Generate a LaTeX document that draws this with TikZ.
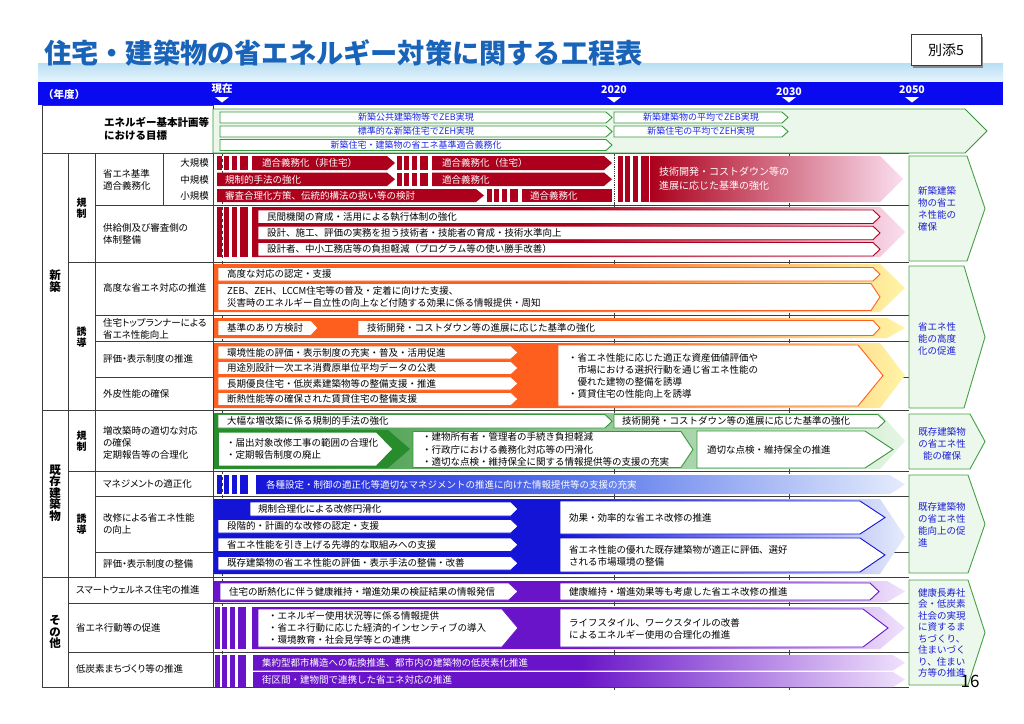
\documentclass[tikz,border=0pt]{standalone}
\usepackage{fontspec}
\setmainfont{Noto Sans CJK JP}
\newfontfamily\plbl[RawFeature=+palt]{Noto Sans CJK JP}
\definecolor{hdrblue}{RGB}{10,10,240}
\definecolor{titleblue}{RGB}{25,100,185}
\definecolor{tbandA}{RGB}{185,222,244}
\definecolor{tbandB}{RGB}{232,245,252}
\definecolor{goalblue}{RGB}{30,40,230}
\definecolor{resblue}{RGB}{30,30,215}
\definecolor{redD}{RGB}{172,0,28}
\definecolor{pinkL}{RGB}{250,222,238}
\definecolor{orgD}{RGB}{255,95,30}
\definecolor{orgL}{RGB}{255,245,165}
\definecolor{grnD}{RGB}{40,140,45}
\definecolor{grnB}{RGB}{55,150,60}
\definecolor{grnL}{RGB}{228,246,228}
\definecolor{bluD}{RGB}{20,20,215}
\definecolor{bluM}{RGB}{90,120,235}
\definecolor{bluL}{RGB}{228,236,252}
\definecolor{purD}{RGB}{105,20,200}
\definecolor{purL}{RGB}{240,225,252}
\definecolor{resfill}{RGB}{236,248,236}
\definecolor{resline}{RGB}{70,160,70}
\definecolor{goalfill}{RGB}{236,247,236}
\definecolor{gridc}{RGB}{60,60,60}

\newcommand{\pent}[6]{\path[#1] (#2,#3) -- ({#4-#6},#3) -- (#4,{(#3+#5)/2}) -- ({#4-#6},#5) -- (#2,#5) -- cycle;}
\newcommand{\stripes}[4]{\foreach \so/\sw in {0/5,7/5,15/5,23/8}{\fill[#1] ({#2+\so},#3) rectangle ({#2+\so+\sw},#4);}}

\begin{document}
\begin{tikzpicture}[x=1pt,y=-1pt,
  every node/.style={inner sep=0pt},
  tx/.style={font=\fontsize{9.5}{12.2}\selectfont, anchor=west, align=left, text=black},
  wt/.style={tx, text=white},
  gt/.style={font=\fontsize{9}{11}\selectfont, text=goalblue},
  lbl/.style={font=\plbl\fontsize{9.5}{12}\selectfont, anchor=west, align=left},
  cat/.style={font=\bfseries\fontsize{11.5}{11.5}\selectfont, align=center},
  subc/.style={font=\bfseries\fontsize{10}{10.5}\selectfont, align=center},
  res/.style={font=\fontsize{9.5}{12}\selectfont, text=resblue, align=left, anchor=west},
  whitearr/.style={fill=white, draw=#1, line width=0.9pt},
  gridln/.style={draw=gridc, line width=0.7pt},
  yr/.style={font=\bfseries\fontsize{10.5}{11}\selectfont, text=white}]

\useasboundingbox[fill=white] (0,0) rectangle (1024,723);

% title
\shade[top color=tbandA, bottom color=tbandB] (38,63) rectangle (1003,82);
\node[font=\bfseries\fontsize{27.2}{27.2}\selectfont, text=titleblue, anchor=west] (title) at (44,53) {住宅・建築物の省エネルギー対策に関する工程表};
\fill[gridc!60] (913,37) rectangle (983,68);
\node[draw=gridc, line width=0.8pt, fill=white, minimum width=70, minimum height=31, font=\fontsize{14}{14}\selectfont] (annex) at (946,50) {別添5};

% header
\fill[hdrblue] (38,82) rectangle (1003,105);
\node[yr] (nendo) at (64,95) {（年度）};
\node[yr] (ynow) at (222,89) {現在};
\node[yr] (y2020) at (614,90) {2020};
\node[yr] (y2030) at (789,92) {2030};
\node[yr] (y2050) at (912,90) {2050};
\foreach \xx in {222,614,789,912} {\fill[white] (\xx-7,97) -- (\xx+7,97) -- (\xx,102.5) -- cycle;}

% grid
\draw[gridln] (42,105) -- (42,687);
\draw[gridln] (68,153) -- (68,687);
\draw[gridln] (95,153) -- (95,577);
\draw[gridln] (163,153) -- (163,205);
\draw[gridln] (213,105) -- (213,687);
\draw[gridln] (42,105) -- (213,105);
\draw[gridln] (42,153) -- (909,153);
\draw[gridln] (95,205) -- (909,205);
\draw[gridln] (68,262) -- (909,262);
\draw[gridln] (95,315) -- (909,315);
\draw[gridln] (95,341) -- (909,341);
\draw[gridln] (95,377) -- (909,377);
\draw[gridln] (42,410) -- (909,410);
\draw[gridln] (68,471) -- (909,471);
\draw[gridln] (95,496) -- (909,496);
\draw[gridln] (95,552) -- (909,552);
\draw[gridln] (42,577) -- (909,577);
\draw[gridln] (68,603) -- (909,603);
\draw[gridln] (68,652) -- (909,652);
\draw[gridln] (42,687) -- (909,687);
\foreach \yy in {153,205,262,315,341,410,471,496,577,603,652,687} {
  \draw[gridln, line width=1pt] (614,\yy-2.5) -- (614,\yy+2.5);
  \draw[gridln, line width=1pt] (789,\yy-2.5) -- (789,\yy+2.5);}
\draw[gridc, dashed, line width=0.8pt] (222.5,153) -- (222.5,687);
\draw[gridc, densely dotted, line width=0.8pt] (614,153) -- (614,205);

% goals
\pent{fill=goalfill, draw=grnB, line width=0.8pt}{213}{109}{987}{153}{22}
\pent{whitearr=grnB}{220}{112}{612}{123}{6}
\pent{whitearr=grnB}{220}{126}{612}{137}{6}
\pent{whitearr=grnB}{220}{139.5}{612}{150.5}{6}
\pent{whitearr=grnB}{614}{112}{788}{123}{6}
\pent{whitearr=grnB}{614}{126}{788}{137}{6}
\node[gt] (g1) at (416,117.5) {新築公共建築物等でZEB実現};
\node[gt] (g2) at (416,131.5) {標準的な新築住宅でZEH実現};
\node[gt] (g3) at (416,145) {新築住宅・建築物の省エネ基準適合義務化};
\node[gt] (g4) at (701,117.5) {新築建築物の平均でZEB実現};
\node[gt] (g5) at (701,131.5) {新築住宅の平均でZEH実現};

% A: new, regulation by scale
\stripes{redD}{217}{156}{170}
\pent{fill=redD}{252}{156}{395}{170}{8}
\node[wt] (a1) at (262,163) {適合義務化（非住宅）};
\stripes{redD}{397}{156}{170}
\pent{fill=redD}{432}{156}{612}{170}{8}
\node[wt] (a2) at (442,163) {適合義務化（住宅）};
\pent{fill=redD}{217}{172.5}{395}{186}{8}
\node[wt] (a3) at (225,179.5) {規制的手法の強化};
\stripes{redD}{397}{172.5}{186}
\pent{fill=redD}{432}{172.5}{612}{186}{8}
\node[wt] (a4) at (442,179.5) {適合義務化};
\pent{fill=redD}{217}{189}{484}{202}{8}
\node[wt] (a5) at (225,195.5) {審査合理化方策、伝統的構法の扱い等の検討};
\stripes{redD}{487}{189}{202}
\fill[redD] (522,189) rectangle (612,202);
\node[wt] (a6) at (530,195.5) {適合義務化};
\stripes{redD}{618}{156}{202}
\pent{left color=redD, right color=pinkL}{650}{156}{903}{202}{23}
\node[wt, font=\fontsize{10}{14}\selectfont] (a7) at (659,179) {技術開発・コストダウン等の\\進展に応じた基準の強化};

% B: supply side
\stripes{redD}{217}{207}{257}
\pent{left color=redD, right color=pinkL, middle color=redD}{252}{207}{905}{257}{25}
\pent{whitearr=redD}{258}{210}{880}{223.5}{7}
\node[tx] (b1) at (267,216.75) {民間機関の育成・活用による執行体制の強化};
\pent{whitearr=redD}{258}{226.2}{880}{239.7}{7}
\node[tx] (b2) at (267,233) {設計、施工、評価の実務を担う技術者・技能者の育成・技術水準向上};
\pent{whitearr=redD}{258}{242.5}{880}{256}{7}
\node[tx] (b3) at (267,249.25) {設計者、中小工務店等の負担軽減（プログラム等の使い勝手改善）};

% C: advanced
\pent{left color=orgD, right color=orgL, middle color=orgD}{214}{264}{905}{312}{25}
\pent{whitearr=orgD}{218}{267.5}{880}{281}{7}
\node[tx] (c1) at (227,274.25) {高度な対応の認定・支援};
\pent{whitearr=orgD}{218}{283.5}{880}{310.5}{9}
\node[tx] (c2) at (227,297) {ZEB、ZEH、LCCM住宅等の普及・定着に向けた支援、\\災害時のエネルギー自立性の向上など付随する効果に係る情報提供・周知};

% D: top runner
\pent{left color=orgD, right color=orgL, middle color=orgD}{214}{318}{905}{338}{18}
\pent{whitearr=orgD}{218}{320.5}{318}{335.5}{7}
\node[tx] (d1) at (227,328) {基準のあり方検討};
\stripes{orgD}{325}{318}{338}
\pent{whitearr=orgD}{358}{320.5}{880}{335.5}{7}
\node[tx] (d2) at (367,328) {技術開発・コストダウン等の進展に応じた基準の強化};

% E: evaluation / envelope
\pent{left color=orgD, right color=orgL, middle color=orgD}{214}{343}{905}{408}{25}
\pent{whitearr=orgD}{218}{346}{518}{359}{7}
\node[tx] (e1) at (227,352.5) {環境性能の評価・表示制度の充実・普及・活用促進};
\pent{whitearr=orgD}{218}{361.5}{518}{374.5}{7}
\node[tx] (e2) at (227,368) {用途別設計一次エネ消費原単位平均データの公表};
\pent{whitearr=orgD}{218}{377}{518}{390}{7}
\node[tx] (e3) at (227,383.5) {長期優良住宅・低炭素建築物等の整備支援・推進};
\pent{whitearr=orgD}{218}{392.5}{518}{405.5}{7}
\node[tx] (e4) at (227,399) {断熱性能等の確保された賃貸住宅の整備支援};
\stripes{orgD}{521}{344}{407}
\pent{whitearr=orgD}{558}{345}{883}{406}{25}
\node[tx] (e5) at (568,376) {・省エネ性能に応じた適正な資産価値評価や\\　市場における選択行動を通じ省エネ性能の\\　優れた建物の整備を誘導\\・賃貸住宅の性能向上を誘導};

% F: existing, regulation
\pent{left color=grnD, right color=grnL}{214}{413}{905}{469}{25}
\pent{whitearr=grnB}{218}{414.5}{612}{428}{7}
\node[tx] (f1) at (227,421.25) {大幅な増改築に係る規制的手法の強化};
\pent{whitearr=grnB}{614}{414.5}{885}{428}{7}
\node[tx] (f2) at (622,421.25) {技術開発・コストダウン等の進展に応じた基準の強化};
\pent{fill=grnD}{214}{430}{410}{468}{22}
\pent{fill=white}{219}{432.5}{392}{465.5}{16}
\node[tx] (f3) at (226,449) {・届出対象改修工事の範囲の合理化\\・定期報告制度の廃止};
\pent{whitearr=grnB}{413}{431.5}{693}{467.5}{12}
\node[tx] (f4) at (422,449.5) {・建物所有者・管理者の手続き負担軽減\\・行政庁における義務化対応等の円滑化\\・適切な点検・維持保全に関する情報提供等の支援の充実};
\pent{whitearr=grnB}{697}{431}{893}{468}{28}
\node[tx] (f5) at (707,449.5) {適切な点検・維持保全の推進};

% G: management
\stripes{bluD}{217}{475}{494}
\pent{left color=bluD, right color=bluL, middle color=bluM}{256}{475}{905}{494}{15}
\node[wt] (g6) at (266,484.5) {各種設定・制御の適正化等適切なマネジメントの推進に向けた情報提供等の支援の充実};

% H: renovation
\pent{left color=bluD, right color=bluL, middle color=bluD}{214}{499}{905}{574}{25}
\stripes{bluD}{217}{502}{516}
\pent{whitearr=bluD}{250}{502}{518}{516}{7}
\node[tx] (h1) at (258,509) {規制合理化による改修円滑化};
\pent{whitearr=bluD}{218}{519.5}{518}{533}{7}
\node[tx] (h2) at (227,526.25) {段階的・計画的な改修の認定・支援};
\pent{whitearr=bluD}{218}{538}{518}{551.5}{7}
\node[tx] (h3) at (227,544.75) {省エネ性能を引き上げる先導的な取組みへの支援};
\pent{whitearr=bluD}{218}{556.5}{518}{570}{7}
\node[tx] (h4) at (227,563.25) {既存建築物の省エネ性能の評価・表示手法の整備・改善};
\stripes{bluD}{521}{502}{534}
\stripes{bluD}{521}{538}{571}
\pent{whitearr=bluD}{560}{501}{885}{534}{25}
\node[tx] (h5) at (569,518) {効果・効率的な省エネ改修の推進};
\pent{whitearr=bluD}{560}{538}{885}{572}{25}
\node[tx] (h6) at (569,555.5) {省エネ性能の優れた既存建築物が適正に評価、選好\\される市場環境の整備};

% I: smart wellness
\pent{left color=purD, right color=purL, middle color=purD}{214}{581}{905}{602}{18}
\pent{whitearr=purD}{220}{583}{518}{600}{9}
\node[tx] (i1) at (229,591.5) {住宅の断熱化に伴う健康維持・増進効果の検証結果の情報発信};
\stripes{purD}{521}{581}{602}
\pent{whitearr=purD}{560}{583}{879}{600}{9}
\node[tx] (i2) at (569,591.5) {健康維持・増進効果等も考慮した省エネ改修の推進};

% J: behaviour
\stripes{purD}{215}{607}{649}
\pent{left color=purD, right color=purL, middle color=purD}{252}{607}{905}{649}{25}
\pent{whitearr=purD}{258}{609}{518}{647}{16}
\node[tx] (j1) at (268,628) {・エネルギー使用状況等に係る情報提供\\・省エネ行動に応じた経済的インセンティブの導入\\・環境教育・社会見学等との連携};
\stripes{purD}{521}{607}{649}
\pent{whitearr=purD}{560}{609}{888}{647}{25}
\node[tx] (j2) at (569,628.5) {ライフスタイル、ワークスタイルの改善\\によるエネルギー使用の合理化の推進};

% K: low carbon town
\stripes{purD}{215}{655}{687}
\pent{left color=purD, right color=purL, middle color=purD}{253}{655}{905}{670.5}{12}
\node[wt] (k1) at (262,662.75) {集約型都市構造への転換推進、都市内の建築物の低炭素化推進};
\pent{left color=purD, right color=purL, middle color=purD}{253}{672}{905}{687}{12}
\node[wt] (k2) at (262,679.5) {街区間・建物間で連携した省エネ対応の推進};

% results
\pent{fill=resfill, draw=resline, line width=0.9pt}{909}{156}{985}{261}{18}
\pent{fill=resfill, draw=resline, line width=0.9pt}{909}{266}{985}{408}{21}
\pent{fill=resfill, draw=resline, line width=0.9pt}{909}{414}{985}{469}{15}
\pent{fill=resfill, draw=resline, line width=0.9pt}{909}{475}{985}{573}{17}
\pent{fill=resfill, draw=resline, line width=0.9pt}{909}{580}{985}{685}{17}
\node[res] (r1) at (918,208.5) {新築建築\\物の省エ\\ネ性能の\\確保};
\node[res] (r2) at (918,338.5) {省エネ性\\能の高度\\化の促進};
\node[res, align=center, anchor=center] (r3) at (942,443.5) {既存建築物\\の省エネ性\\能の確保};
\node[res] (r4) at (918,525) {既存建築物\\の省エネ性\\能向上の促\\進};
\node[res, font=\fontsize{9.5}{11.5}\selectfont] (r5) at (918,633) {健康長寿社\\会・低炭素\\社会の実現\\に資するま\\ちづくり、\\住まいづく\\り、住まい\\方等の推進};

% left labels
\node[cat] (cnew) at (55,281) {新\\築};
\node[cat] (cold) at (55,493) {既\\存\\建\\築\\物};
\node[cat] (coth) at (55,632) {そ\\の\\他};
\node[subc] (s1) at (81.5,208) {規\\制};
\node[subc] (s2) at (81.5,337) {誘\\導};
\node[subc] (s3) at (81.5,441) {規\\制};
\node[subc] (s4) at (81.5,524) {誘\\導};

\node[lbl, font=\bfseries\fontsize{10.5}{12.5}\selectfont] (l0) at (104,129) {エネルギー基本計画等\\における目標};
\node[lbl] (l1) at (103,180) {省エネ基準\\適合義務化};
\node[lbl, anchor=east] (l1a) at (209,163) {大規模};
\node[lbl, anchor=east] (l1b) at (209,180) {中規模};
\node[lbl, anchor=east] (l1c) at (209,196) {小規模};
\node[lbl] (l2) at (103,234) {供給側及び審査側の\\体制整備};
\node[lbl] (l3) at (103,288) {高度な省エネ対応の推進};
\node[lbl] (l4) at (103,329) {住宅トップランナーによる\\省エネ性能向上};
\node[lbl] (l5) at (103,359) {評価・表示制度の推進};
\node[lbl] (l6) at (103,394) {外皮性能の確保};
\node[lbl] (l7) at (103,443) {増改築時の適切な対応\\の確保\\定期報告等の合理化};
\node[lbl] (l8) at (103,484) {マネジメントの適正化};
\node[lbl] (l9) at (103,524) {改修による省エネ性能\\の向上};
\node[lbl] (l10) at (103,564) {評価・表示制度の整備};
\node[lbl] (l11) at (76,590) {スマートウェルネス住宅の推進};
\node[lbl] (l12) at (76,628) {省エネ行動等の促進};
\node[lbl] (l13) at (76,669) {低炭素まちづくり等の推進};

\node[font=\fontsize{17}{17}\selectfont] (pg) at (970,681) {16};
\end{tikzpicture}
\end{document}
